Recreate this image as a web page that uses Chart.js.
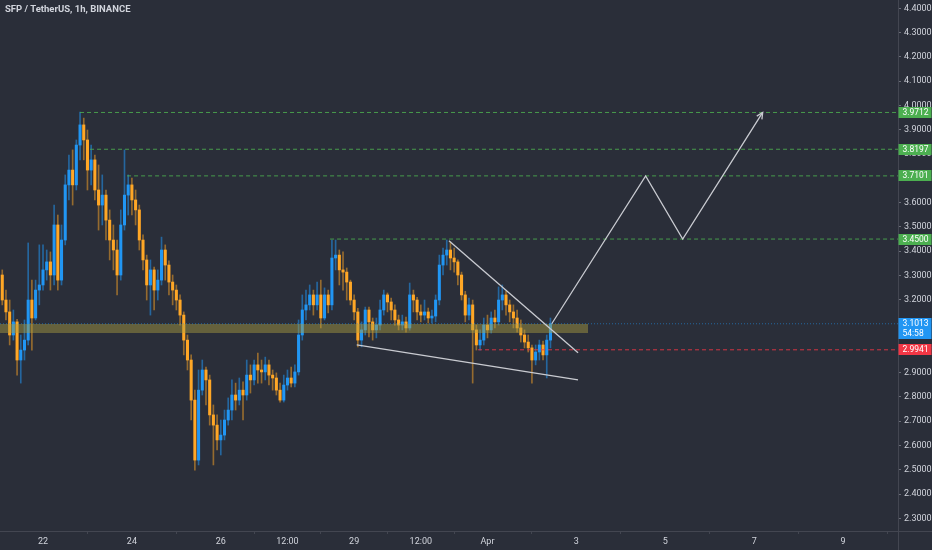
<!DOCTYPE html>
<html><head><meta charset="utf-8">
<script src="https://cdn.jsdelivr.net/npm/chart.js@4.4.0/dist/chart.umd.min.js"></script>
<style>
html,body{margin:0;padding:0;background:#2a2e39;}
#wrap{position:relative;width:932px;height:550px;}
#title{position:absolute;left:5px;top:3px;font:700 9.5px "Liberation Sans Narrow",Roboto,sans-serif;color:#d1d4dc;}
</style></head><body>
<div id="wrap"><canvas id="c" width="932" height="550"></canvas><div id="title">SFP / TetherUS, 1h, BINANCE</div></div>
<script>
// time axis in hours since Mar 22 00:00
const firstHour = -22;
const hourStep = 2;
const firstOpen = 3.302;
const closes = [
3.199,3.150,3.055,3.109,2.952,2.993,3.034,3.199,3.125,3.240,
3.261,3.323,3.356,3.302,3.508,3.281,3.446,3.673,3.734,3.673,
3.837,3.920,3.858,3.734,3.776,3.652,3.590,3.631,3.528,3.446,
3.405,3.302,3.508,3.631,3.673,3.611,3.570,3.446,3.364,3.261,
3.323,3.240,3.281,3.405,3.343,3.273,3.240,3.199,3.137,3.034,
2.952,2.787,2.540,2.828,2.911,2.870,2.726,2.684,2.623,2.643,
2.705,2.746,2.808,2.787,2.828,2.808,2.890,2.870,2.932,2.911,
2.903,2.932,2.890,2.878,2.828,2.787,2.849,2.878,2.857,2.903,
3.055,3.158,3.179,3.220,3.179,3.220,3.125,3.220,3.179,3.372,
3.384,3.323,3.314,3.273,3.199,3.150,3.034,3.076,3.158,3.109,
3.076,3.096,3.158,3.220,3.191,3.158,3.117,3.096,3.109,3.084,
3.220,3.199,3.150,3.137,3.150,3.125,3.133,3.199,3.343,3.384,
3.405,3.372,3.356,3.302,3.220,3.137,3.179,3.076,3.014,3.034,
3.096,3.076,3.125,3.109,3.199,3.220,3.179,3.150,3.125,3.084,
3.055,3.026,3.002,2.952,2.985,3.014,2.973,3.034,3.1013];
const highs = [
3.323,3.240,3.199,3.158,3.120,3.055,3.117,3.434,3.281,3.281,
3.426,3.426,3.405,3.397,3.590,3.549,3.508,3.714,3.796,3.817,
3.858,3.973,3.948,3.899,3.837,3.796,3.755,3.714,3.652,3.570,
3.508,3.446,3.570,3.817,3.714,3.701,3.652,3.590,3.467,3.384,
3.364,3.335,3.323,3.458,3.426,3.360,3.302,3.261,3.220,3.150,
3.055,2.973,2.828,2.911,2.952,2.923,2.890,2.767,2.726,2.705,
2.746,2.796,2.870,2.857,2.878,2.862,2.952,2.932,2.952,2.981,
2.952,2.964,2.952,2.911,2.899,2.857,2.890,2.911,2.923,2.932,
3.117,3.220,3.240,3.261,3.240,3.273,3.281,3.249,3.240,3.446,
3.446,3.405,3.397,3.331,3.281,3.220,3.165,3.109,3.170,3.170,
3.125,3.125,3.199,3.240,3.228,3.207,3.179,3.137,3.137,3.129,
3.269,3.240,3.210,3.179,3.199,3.166,3.158,3.220,3.384,3.413,
3.446,3.438,3.413,3.364,3.314,3.235,3.207,3.199,3.096,3.076,
3.125,3.137,3.150,3.158,3.253,3.261,3.235,3.199,3.179,3.158,
3.117,3.076,3.055,3.014,3.014,3.034,3.030,3.055,3.125];
const lows = [
3.179,3.117,3.014,3.034,2.890,2.857,2.952,3.014,2.993,3.117,
3.179,3.240,3.281,3.240,3.261,3.240,3.261,3.426,3.611,3.590,
3.652,3.776,3.776,3.652,3.673,3.611,3.487,3.508,3.446,3.364,
3.323,3.220,3.281,3.487,3.549,3.549,3.508,3.405,3.323,3.199,
3.137,3.158,3.199,3.261,3.281,3.220,3.179,3.158,3.096,2.973,
2.911,2.705,2.499,2.520,2.808,2.767,2.684,2.520,2.582,2.561,
2.623,2.684,2.705,2.746,2.767,2.705,2.787,2.816,2.849,2.857,
2.857,2.870,2.849,2.828,2.808,2.779,2.779,2.828,2.841,2.841,
2.890,3.034,3.117,3.158,3.137,3.158,3.084,3.117,3.146,3.158,
3.323,3.261,3.240,3.199,3.179,3.117,3.006,3.006,3.055,3.047,
3.034,3.043,3.076,3.137,3.150,3.117,3.096,3.076,3.076,3.067,
3.075,3.150,3.117,3.109,3.117,3.104,3.104,3.109,3.179,3.302,
3.343,3.323,3.314,3.261,3.199,3.109,3.117,2.857,2.993,2.993,
3.014,3.043,3.063,3.084,3.096,3.158,3.137,3.109,3.084,3.067,
3.026,3.002,2.985,2.857,2.932,2.952,2.952,2.878,3.002];

const xTickHours = [0,48,96,132,168,204,240,288,336,384,432];
const xTickLabels = ["22","24","26","12:00","29","12:00","Apr","3","5","7","9"];
const yTickValues = [2.3,2.4,2.5,2.6,2.7,2.8,2.9,3.0,3.1,3.2,3.3,3.4,3.5,3.6,3.7,3.8,3.9,4.0,4.1,4.2,4.3,4.4];
const xMin = -23.22, xMax = 461.66;
const yMin = 2.2481, yMax = 4.4342;

const greenLevels = [3.9712, 3.8197, 3.7101, 3.4500];
const greenLevelStart = [20.0, 25.4, 45.4, 155.0];
const stopLevel = 2.9941;
const stopStart = 234.9;
const lastPrice = 3.1013;
const countdown = "54:58";
const zoneLow = 3.063, zoneHigh = 3.100, zoneEnd = 294.3;
const upperTrendHours = [219.2, 288.9], upperTrendPrices = [3.443, 2.982];
const lowerTrendHours = [169.4, 288.9], lowerTrendPrices = [3.014, 2.870];
const pathHours = [274.7, 325.4, 345.4, 388.6];
const pathPrices = [3.1013, 3.7101, 3.4500, 3.9712];

const UP = '#2196f3', DOWN = '#ffa726';
const UPW = 'rgba(33,150,243,0.55)', DOWNW = 'rgba(255,167,38,0.5)';
const FONT = '"Liberation Sans Narrow", Roboto, sans-serif';

const opens = closes.map((c,i) => i === 0 ? firstOpen : closes[i-1]);
const hours = closes.map((c,i) => firstHour + hourStep*i);
const upFlags = closes.map((c,i) => c >= opens[i]);

const wickData = hours.map((h,i) => ({x:h, y:[lows[i], highs[i]]}));
const bodyData = hours.map((h,i) => ({x:h, y:[opens[i], closes[i]]}));

function seg(x0,x1,y0,y1){ return [{x:x0,y:y0},{x:x1,y:y1}]; }
function lineDs(data, color, width, dash, order){
  return {type:'line', data, borderColor:color, borderWidth:width, borderDash:dash||[], pointRadius:0, fill:false, tension:0, order:order==null?0:order};
}

const datasets = [
  {type:'bar', data:wickData, backgroundColor:(ctx)=>upFlags[ctx.dataIndex]?UPW:DOWNW, barThickness:1, grouped:false, order:6},
  {type:'bar', data:bodyData, backgroundColor:(ctx)=>upFlags[ctx.dataIndex]?UP:DOWN, barThickness:2.4, minBarLength:1, grouped:false, order:5},
  {type:'line', data:seg(xMin, zoneEnd, zoneHigh, zoneHigh), borderWidth:0, pointRadius:0, fill:'+1', backgroundColor:'rgba(172,160,64,0.45)', order:2},
  {type:'line', data:seg(xMin, zoneEnd, zoneLow, zoneLow), borderWidth:0, pointRadius:0, fill:false, order:2},
  lineDs(seg(xMin, xMax, lastPrice, lastPrice), 'rgba(33,150,243,0.55)', 1, [1,2], 1),
];
greenLevels.forEach((lv,k) => datasets.push(lineDs(seg(greenLevelStart[k], xMax, lv, lv), 'rgba(76,175,80,0.85)', 1, [4,3], 1)));
datasets.push(lineDs(seg(stopStart, xMax, stopLevel, stopLevel), 'rgba(242,54,69,0.85)', 1, [4,3], 1));
datasets.push(lineDs(seg(upperTrendHours[0], upperTrendHours[1], upperTrendPrices[0], upperTrendPrices[1]), '#c9cbd1', 1.3, [], 0));
datasets.push(lineDs(seg(lowerTrendHours[0], lowerTrendHours[1], lowerTrendPrices[0], lowerTrendPrices[1]), '#c9cbd1', 1.3, [], 0));
datasets.push(lineDs(pathHours.map((h,i)=>({x:h,y:pathPrices[i]})), '#c9cbd1', 1.3, [], 0));

const overlay = {
  id:'overlay',
  beforeDraw(chart){
    const c = chart.ctx; c.save(); c.fillStyle = '#2a2e39'; c.fillRect(0,0,chart.width,chart.height); c.restore();
  },
  afterDraw(chart){
    const c = chart.ctx, xs = chart.scales.x, ys = chart.scales.y, ca = chart.chartArea;
    c.save();
    c.strokeStyle = '#434651'; c.lineWidth = 1;
    c.beginPath(); c.moveTo(ca.right+0.5, 0); c.lineTo(ca.right+0.5, chart.height); c.stroke();
    c.beginPath(); c.moveTo(0, ca.bottom+0.5); c.lineTo(chart.width, ca.bottom+0.5); c.stroke();
    const n = pathHours.length;
    const px = xs.getPixelForValue(pathHours[n-1]), py = ys.getPixelForValue(pathPrices[n-1]);
    const qx = xs.getPixelForValue(pathHours[n-2]), qy = ys.getPixelForValue(pathPrices[n-2]);
    const ang = Math.atan2(py-qy, px-qx), L = 7;
    c.strokeStyle = '#c9cbd1'; c.lineWidth = 1.3;
    c.beginPath();
    c.moveTo(px - L*Math.cos(ang-0.45), py - L*Math.sin(ang-0.45)); c.lineTo(px,py);
    c.lineTo(px - L*Math.cos(ang+0.45), py - L*Math.sin(ang+0.45)); c.stroke();
    c.font = '8.5px ' + FONT; c.textBaseline = 'middle'; c.textAlign = 'left';
    const box = (price, color, lines) => {
      const y = ys.getPixelForValue(price);
      const h = lines.length === 1 ? 11 : 21;
      const top = lines.length === 1 ? y - h/2 : y - 6;
      c.fillStyle = color; c.fillRect(ca.right+0.5, Math.round(top), 33, h);
      c.fillStyle = '#ffffff';
      lines.forEach((t,k) => c.fillText(t, ca.right+4.5, Math.round(top) + 6 + k*9.5));
    };
    greenLevels.forEach(lv => box(lv, '#4caf50', [lv.toFixed(4)]));
    box(stopLevel, '#f23645', [stopLevel.toFixed(4)]);
    box(lastPrice, '#2196f3', [lastPrice.toFixed(4), countdown]);
    c.restore();
  }
};

new Chart(document.getElementById('c'), {
  type:'bar',
  data:{datasets},
  options:{
    responsive:false, animation:false, devicePixelRatio:1,
    layout:{padding:0},
    plugins:{legend:{display:false}, tooltip:{enabled:false}, title:{display:false}},
    scales:{
      x:{type:'linear', min:xMin, max:xMax, offset:false,
        grid:{display:true, drawOnChartArea:false, drawTicks:true, tickLength:3, color:'#434651'},
        border:{display:false},
        afterBuildTicks(s){ s.ticks = xTickHours.map(v=>({value:v})); },
        afterFit(s){ s.height = 19; s.paddingLeft = 0; s.paddingRight = 0; },
        ticks:{autoSkip:false, maxRotation:0, color:'#d1d4dc', font:{family:FONT, size:9}, padding:2,
          callback:(v)=>{ const k = xTickHours.indexOf(v); return k>=0 ? xTickLabels[k] : ''; }}
      },
      y:{type:'linear', position:'right', min:yMin, max:yMax,
        grid:{display:true, drawOnChartArea:false, drawTicks:true, tickLength:3, color:'#6a6d78'},
        border:{display:false},
        afterBuildTicks(s){ s.ticks = yTickValues.map(v=>({value:v})); },
        afterFit(s){ s.width = 34; s.paddingTop = 0; s.paddingBottom = 0; },
        ticks:{color:'#d1d4dc', font:{family:FONT, size:9}, padding:3,
          callback:(v)=>Number(v).toFixed(4)}
      }
    }
  },
  plugins:[overlay]
});
</script>
</body></html>
